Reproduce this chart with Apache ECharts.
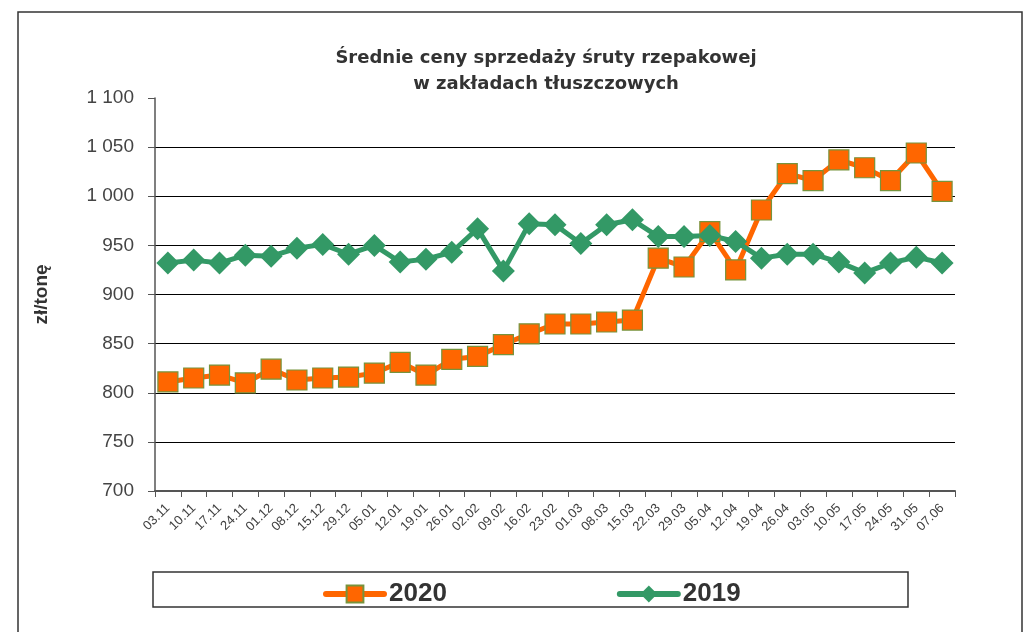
<!DOCTYPE html>
<html>
<head>
<meta charset="utf-8">
<script src="https://cdn.jsdelivr.net/npm/echarts@6/dist/echarts.min.js"></script>
<style>
  html, body { margin: 0; padding: 0; background: #fff; }
  #chart { width: 1030px; height: 632px; }
</style>
</head>
<body>
<div id="chart"></div>
<script>
// tygodnie (notowania)
var weeks = ['03.11', '10.11', '17.11', '24.11', '01.12', '08.12', '15.12', '29.12', '05.01', '12.01',
  '19.01', '26.01', '02.02', '09.02', '16.02', '23.02', '01.03', '08.03', '15.03', '22.03',
  '29.03', '05.04', '12.04', '19.04', '26.04', '03.05', '10.05', '17.05', '24.05', '31.05', '07.06'];

var prices2020 = [811, 815, 818, 810, 824, 813, 815, 816, 820, 831,
  818, 834, 837, 849, 860, 870, 870, 872, 874, 937,
  928, 964, 925, 986, 1023, 1016, 1037, 1029, 1016, 1044, 1005];

var prices2019 = [932, 935, 932, 940, 939, 947, 951, 941, 950, 933,
  936, 943, 967, 924, 972, 971, 952, 971, 976, 959,
  959, 960, 954, 937, 941, 941, 933, 922, 932, 938, 932];

var fontTitle = "'DejaVu Sans', 'Liberation Sans', Arial, sans-serif";
var fontSans = "'Liberation Sans', Arial, sans-serif";

var myChart = echarts.init(document.getElementById('chart'));
var option = {
  animation: false,
  title: {
    text: 'Średnie ceny sprzedaży śruty rzepakowej\nw zakładach tłuszczowych',
    left: 541,
    top: 40,
    textAlign: 'center',
    textStyle: {
      fontFamily: fontTitle,
      fontSize: 18,
      fontWeight: 'bold',
      color: '#333',
      lineHeight: 26
    }
  },
  graphic: [
    {
      type: 'rect',
      shape: { x: 18, y: 12, width: 1004, height: 640 },
      style: { fill: 'none', stroke: '#333', lineWidth: 1.5 },
      silent: true
    },
    {
      type: 'rect',
      shape: { x: 153, y: 572, width: 755, height: 35 },
      style: { fill: 'none', stroke: '#333', lineWidth: 1.5 },
      silent: true
    }
  ],
  legend: {
    top: 576,
    left: 318,
    itemGap: 170,
    itemWidth: 58,
    itemHeight: 21,
    lineStyle: { width: 6, cap: 'round' },
    textStyle: {
      fontFamily: fontSans,
      fontSize: 26,
      fontWeight: 'bold',
      color: '#333'
    },
    data: ['2020', '2019']
  },
  grid: {
    left: 155,
    right: 75,
    top: 98,
    bottom: 141,
    containLabel: false
  },
  xAxis: {
    type: 'category',
    data: weeks,
    boundaryGap: true,
    axisLine: { lineStyle: { color: '#555', width: 2 } },
    axisTick: { show: true, length: 6, lineStyle: { color: '#555' } },
    axisLabel: {
      rotate: 45,
      interval: 0,
      fontFamily: fontSans,
      fontSize: 13,
      color: '#404040',
      margin: 15
    }
  },
  yAxis: {
    type: 'value',
    min: 700,
    max: 1100,
    interval: 50,
    name: 'zł/tonę',
    nameLocation: 'middle',
    nameRotate: 90,
    nameGap: 104,
    nameTextStyle: {
      fontFamily: fontSans,
      fontSize: 19,
      fontWeight: 'bold',
      color: '#333'
    },
    axisLine: { show: true, lineStyle: { color: '#555', width: 1.5 } },
    axisTick: { show: true, length: 7, lineStyle: { color: '#555' } },
    axisLabel: {
      fontFamily: fontSans,
      fontSize: 19,
      color: '#444',
      margin: 21,
      formatter: function (v) {
        return v >= 1000 ? Math.floor(v / 1000) + ' ' + String(v % 1000).padStart(3, '0') : String(v);
      }
    },
    splitLine: { show: true, showMaxLine: false, lineStyle: { color: '#000', width: 1 } }
  },
  series: [
    {
      name: '2020',
      type: 'line',
      data: prices2020,
      symbol: 'rect',
      symbolSize: 20,
      lineStyle: { color: '#FF6600', width: 5 },
      itemStyle: { color: '#FF6600', borderColor: '#77933C', borderWidth: 1.2 }
    },
    {
      name: '2019',
      type: 'line',
      data: prices2019,
      symbol: 'diamond',
      symbolSize: 23,
      lineStyle: { color: '#339966', width: 5 },
      itemStyle: { color: '#339966' }
    }
  ]
};
option && myChart.setOption(option);
</script>
</body>
</html>
